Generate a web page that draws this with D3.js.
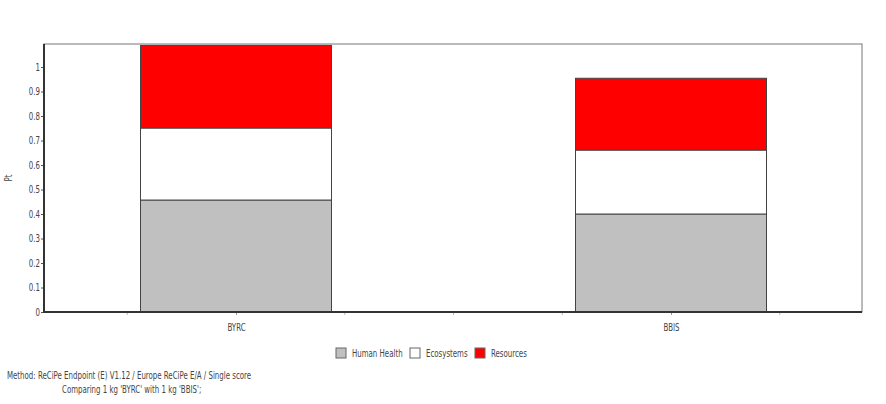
<!DOCTYPE html>
<html>
<head>
<meta charset="utf-8">
<script src="https://cdn.jsdelivr.net/npm/d3@7"></script>
<style>
  body { margin: 0; background: #fff; }
  svg text { font-family: "DejaVu Sans Condensed", "DejaVu Sans", sans-serif; font-stretch: condensed; fill: #444; }
</style>
</head>
<body>
<svg id="chart" width="886" height="404"></svg>
<script>
const products = ["BYRC", "BBIS"];
const categories = ["Human Health", "Ecosystems", "Resources"];
const humanHealth = [0.457, 0.400];
const ecosystems = [0.294, 0.261];
const resources = [0.337, 0.293];
const yTicks = [0, 0.1, 0.2, 0.3, 0.4, 0.5, 0.6, 0.7, 0.8, 0.9, 1];
const colors = ["#c0c0c0", "#ffffff", "#ff0000"];

const svg = d3.select("#chart");
const plotL = 44, plotR = 862, plotT = 44, plotB = 312;

const y = d3.scaleLinear().domain([0, 1]).range([plotB, 67]);
const x = d3.scalePoint().domain(products).range([236, 671]);
const barW = 191;

// squeeze text horizontally so it looks like the narrow original font
function narrow(sel, k = 0.78) {
    sel.each(function () {
        const w = this.getComputedTextLength();
        d3.select(this).attr("textLength", w * k).attr("lengthAdjust", "spacingAndGlyphs");
    });
}

// frame
svg.append("rect")
    .attr("x", plotL).attr("y", plotT)
    .attr("width", plotR - plotL).attr("height", plotB - plotT)
    .attr("fill", "none").attr("stroke", "#777").attr("stroke-width", 1);

// stacked bars
const rows = products.map((p, i) => ({ product: p, "Human Health": humanHealth[i], "Ecosystems": ecosystems[i], "Resources": resources[i] }));
const stack = d3.stack().keys(categories)(rows);

svg.append("g").selectAll("g")
    .data(stack)
    .join("g")
    .attr("fill", (d, i) => colors[i])
    .selectAll("rect")
    .data(d => d)
    .join("rect")
    .attr("x", d => x(d.data.product) - barW / 2)
    .attr("y", d => Math.max(y(d[1]), plotT + 1))
    .attr("width", barW)
    .attr("height", d => y(d[0]) - Math.max(y(d[1]), plotT + 1))
    .attr("stroke", "#444")
    .attr("stroke-width", 1);

// y axis
const yAxis = svg.append("g")
    .attr("transform", `translate(${plotL},0)`)
    .call(d3.axisLeft(y).tickValues(yTicks).tickSize(3).tickFormat(d3.format("~g")));
yAxis.select(".domain").remove();
yAxis.selectAll("line").attr("stroke", "#555");
yAxis.selectAll("text").attr("font-size", 10).attr("x", -4).call(narrow);

svg.append("line")
    .attr("x1", plotL).attr("x2", plotL).attr("y1", plotT).attr("y2", plotB)
    .attr("stroke", "#333").attr("stroke-width", 2);

// x axis
const xAxis = svg.append("g")
    .attr("transform", `translate(0,${plotB})`)
    .call(d3.axisBottom(x).tickSize(3).tickPadding(9));
xAxis.select(".domain").remove();
xAxis.selectAll("line").attr("stroke", "#999");
xAxis.selectAll("text").attr("font-size", 10).call(narrow);

// minor ticks between products
const step = x.step() / 4;
const minor = d3.range(-1, 6).filter(k => k % 4 !== 0).map(k => x.range()[0] + k * step);
svg.append("g").selectAll("line")
    .data(minor)
    .join("line")
    .attr("x1", d => d).attr("x2", d => d)
    .attr("y1", plotB).attr("y2", plotB + 3)
    .attr("stroke", "#bbb");

svg.append("line")
    .attr("x1", plotL - 1).attr("x2", plotR).attr("y1", plotB).attr("y2", plotB)
    .attr("stroke", "#333").attr("stroke-width", 2);

// y label
svg.append("text")
    .attr("transform", `translate(12,${(plotT + plotB) / 2}) rotate(-90)`)
    .attr("text-anchor", "middle")
    .attr("font-size", 10)
    .text("Pt")
    .call(narrow);

// legend
const legendX = [336, 410, 475];
const legend = svg.append("g").selectAll("g")
    .data(categories)
    .join("g")
    .attr("transform", (d, i) => `translate(${legendX[i]},348)`);
legend.append("rect")
    .attr("width", 10).attr("height", 10)
    .attr("fill", (d, i) => colors[i])
    .attr("stroke", "#666");
legend.append("text")
    .attr("x", 16).attr("y", 9)
    .attr("font-size", 10)
    .text(d => d)
    .call(narrow);

// footer
svg.append("text")
    .attr("x", 7).attr("y", 379)
    .attr("font-size", 10)
    .text("Method: ReCiPe Endpoint (E) V1.12 / Europe ReCiPe E/A / Single score")
    .call(narrow);
svg.append("text")
    .attr("x", 62).attr("y", 393)
    .attr("font-size", 10)
    .text("Comparing 1 kg 'BYRC' with 1 kg 'BBIS';")
    .call(narrow);
</script>
</body>
</html>
